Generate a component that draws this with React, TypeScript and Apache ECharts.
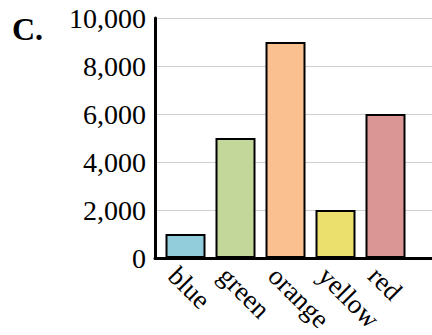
import React, { useEffect, useRef } from "react";
import * as echarts from "echarts";

const categories = ["blue", "green", "orange", "yellow", "red"];
const values = [1000, 5000, 9000, 2000, 6000];
const barColors = ["#92CDDC", "#C4D79B", "#FAC090", "#EBDF6E", "#DA9694"];
const yTicks = { min: 0, max: 10000, interval: 2000 };

export default function App() {
  const ref = useRef<HTMLDivElement>(null);
  useEffect(() => {
    if (!ref.current) return;
    const chart = echarts.init(ref.current, null, { renderer: "svg" });
    const font = "'Liberation Serif', 'Times New Roman', serif";
    chart.setOption({
      animation: false,
      backgroundColor: "#ffffff",
      grid: [
        { left: 155, right: 0, top: 18, bottom: 77 },
        { left: 160.5, width: 250, top: 18, bottom: 77 },
        { left: 157.5, width: 250, top: 18, bottom: 77 },
      ],
      xAxis: [
        {
          gridIndex: 0,
          type: "value",
          min: 0,
          max: 1,
          axisLine: { show: true, lineStyle: { color: "#000", width: 3 } },
          axisTick: { show: false },
          axisLabel: { show: false },
          splitLine: { show: false },
        },
        {
          gridIndex: 1,
          type: "category",
          data: categories,
          axisLine: { show: false },
          axisTick: { show: false },
          axisLabel: { show: false },
        },
        {
          gridIndex: 2,
          type: "category",
          data: categories,
          axisLine: { show: false },
          axisTick: { show: false },
          axisLabel: {
            rotate: -45,
            margin: 9,
            align: "left",
            verticalAlign: "top",
            color: "#000",
            fontFamily: font,
            fontSize: 27,
            interval: 0,
          },
        },
      ],
      yAxis: [
        {
          gridIndex: 0,
          type: "value",
          min: yTicks.min,
          max: yTicks.max,
          interval: yTicks.interval,
          axisLine: { show: true, lineStyle: { color: "#000", width: 3 } },
          axisTick: { show: false },
          axisLabel: {
            margin: 9,
            color: "#000",
            fontFamily: font,
            fontSize: 28,
            formatter: (v: number) => v.toLocaleString("en-US"),
          },
          splitLine: { show: true, lineStyle: { color: "#d0d0d0", width: 1 } },
        },
        {
          gridIndex: 1,
          type: "value",
          min: yTicks.min,
          max: yTicks.max,
          interval: yTicks.interval,
          show: false,
          splitLine: { show: false },
        },
        {
          gridIndex: 2,
          type: "value",
          min: yTicks.min,
          max: yTicks.max,
          interval: yTicks.interval,
          show: false,
          splitLine: { show: false },
        },
      ],
      series: [
        {
          type: "bar",
          xAxisIndex: 1,
          yAxisIndex: 1,
          barWidth: 40,
          data: values.map((v, i) => ({
            value: v,
            itemStyle: { color: barColors[i] },
          })),
          itemStyle: { borderColor: "#000", borderWidth: 2 },
          z: 1,
        },
      ],
      graphic: [
        {
          type: "text",
          left: 12,
          top: 13,
          style: {
            text: "C.",
            fontFamily: font,
            fontWeight: "bold",
            fontSize: 32,
            fill: "#000",
          },
        },
      ],
    });
    return () => chart.dispose();
  }, []);
  return (
    <div
      ref={ref}
      style={{ position: "fixed", left: 0, top: 0, width: 432, height: 335 }}
    />
  );
}
